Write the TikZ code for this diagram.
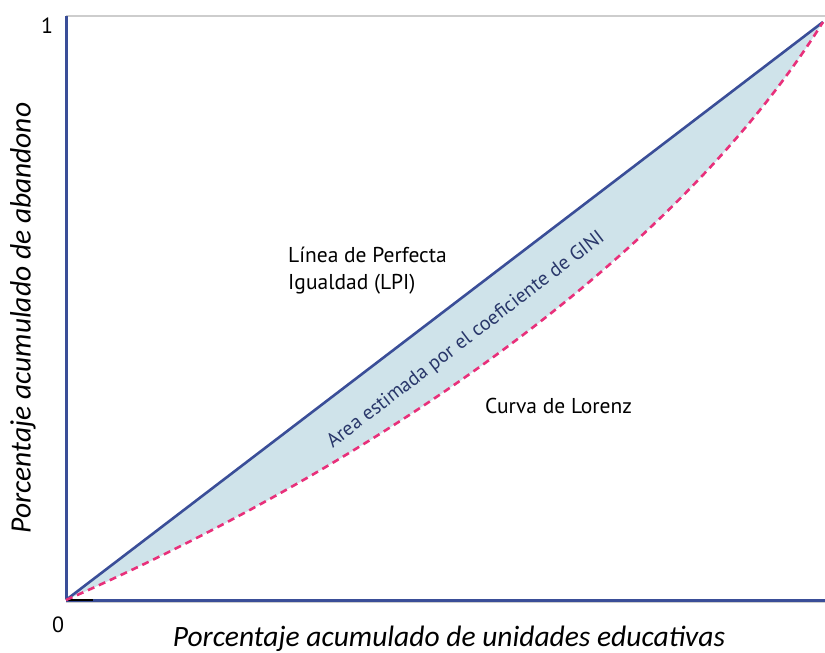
\documentclass[tikz,border=0pt]{standalone}
\usepackage{fontspec}
\setmainfont{Carlito}
\newfontfamily\labfont{PT Sans}
\definecolor{lpiblue}{RGB}{58,78,152}
\definecolor{areafill}{RGB}{207,227,234}
\definecolor{lorpink}{RGB}{232,48,122}
\definecolor{gridgrey}{RGB}{205,205,205}
\tikzset{
  lbl/.style={font=\labfont\fontsize{21.5}{27}\selectfont, align=left, text=black, inner sep=0pt},
  axlbl/.style={font=\itshape\fontsize{29.5}{32}\selectfont, text=black, inner sep=0pt},
  ticklbl/.style={font=\labfont\fontsize{22}{24}\selectfont, text=black, inner sep=0pt},
  axisline/.style={draw=lpiblue, line width=3pt},
  lpiline/.style={draw=lpiblue, line width=2.6pt},
  lorline/.style={draw=lorpink, line width=2.6pt, dash pattern=on 7pt off 5pt},
}
\begin{document}
\begin{tikzpicture}[x=1pt,y=-1pt]
\useasboundingbox (0,0) rectangle (825,653);
\coordinate (O) at (66,600);
\coordinate (T) at (823,22);
\coordinate (YT) at (66,16);
\coordinate (XR) at (825,600);
\coordinate (TR) at (825,16);
% shaded area
\fill[areafill] (O) -- (T) .. controls (672,263) and (366,468) .. (O) -- cycle;
% frame
\draw[gridgrey, line width=2pt] (YT) -- (TR);
\draw[gridgrey, line width=1.5pt] ([yshift=-2.5pt]O) -- ([yshift=-2.5pt]XR);
\draw[axisline] (O) -- (XR);
\draw[axisline] ([yshift=1.5pt]O) -- (YT);
\draw[black, line width=2pt] (O) -- ++(27,0);
% lines
\draw[lpiline] (O) -- (T);
\draw[lorline] (O) .. controls (366,468) and (672,263) .. (T);
% labels
\node[ticklbl] (one) at (47,26) {1};
\node[ticklbl] (zero) at (58,625) {0};
\node[lbl, anchor=west] (lpi) at (288,271) {Línea de Perfecta\\Igualdad (LPI)};
\node[lbl, anchor=west] (lor) at (485,406) {Curva de Lorenz};
\node[font=\labfont\fontsize{20}{22}\selectfont, text=lpiblue!70!black, rotate=37.4, inner sep=0pt] (area) at (466,340) {Area estimada por el coeficiente de GINI};
\node[axlbl] (xl) at (449,639) {Porcentaje acumulado de unidades educativas};
\node[axlbl, rotate=90] (yl) at (23,318) {Porcentaje acumulado de abandono};
\end{tikzpicture}
\end{document}
